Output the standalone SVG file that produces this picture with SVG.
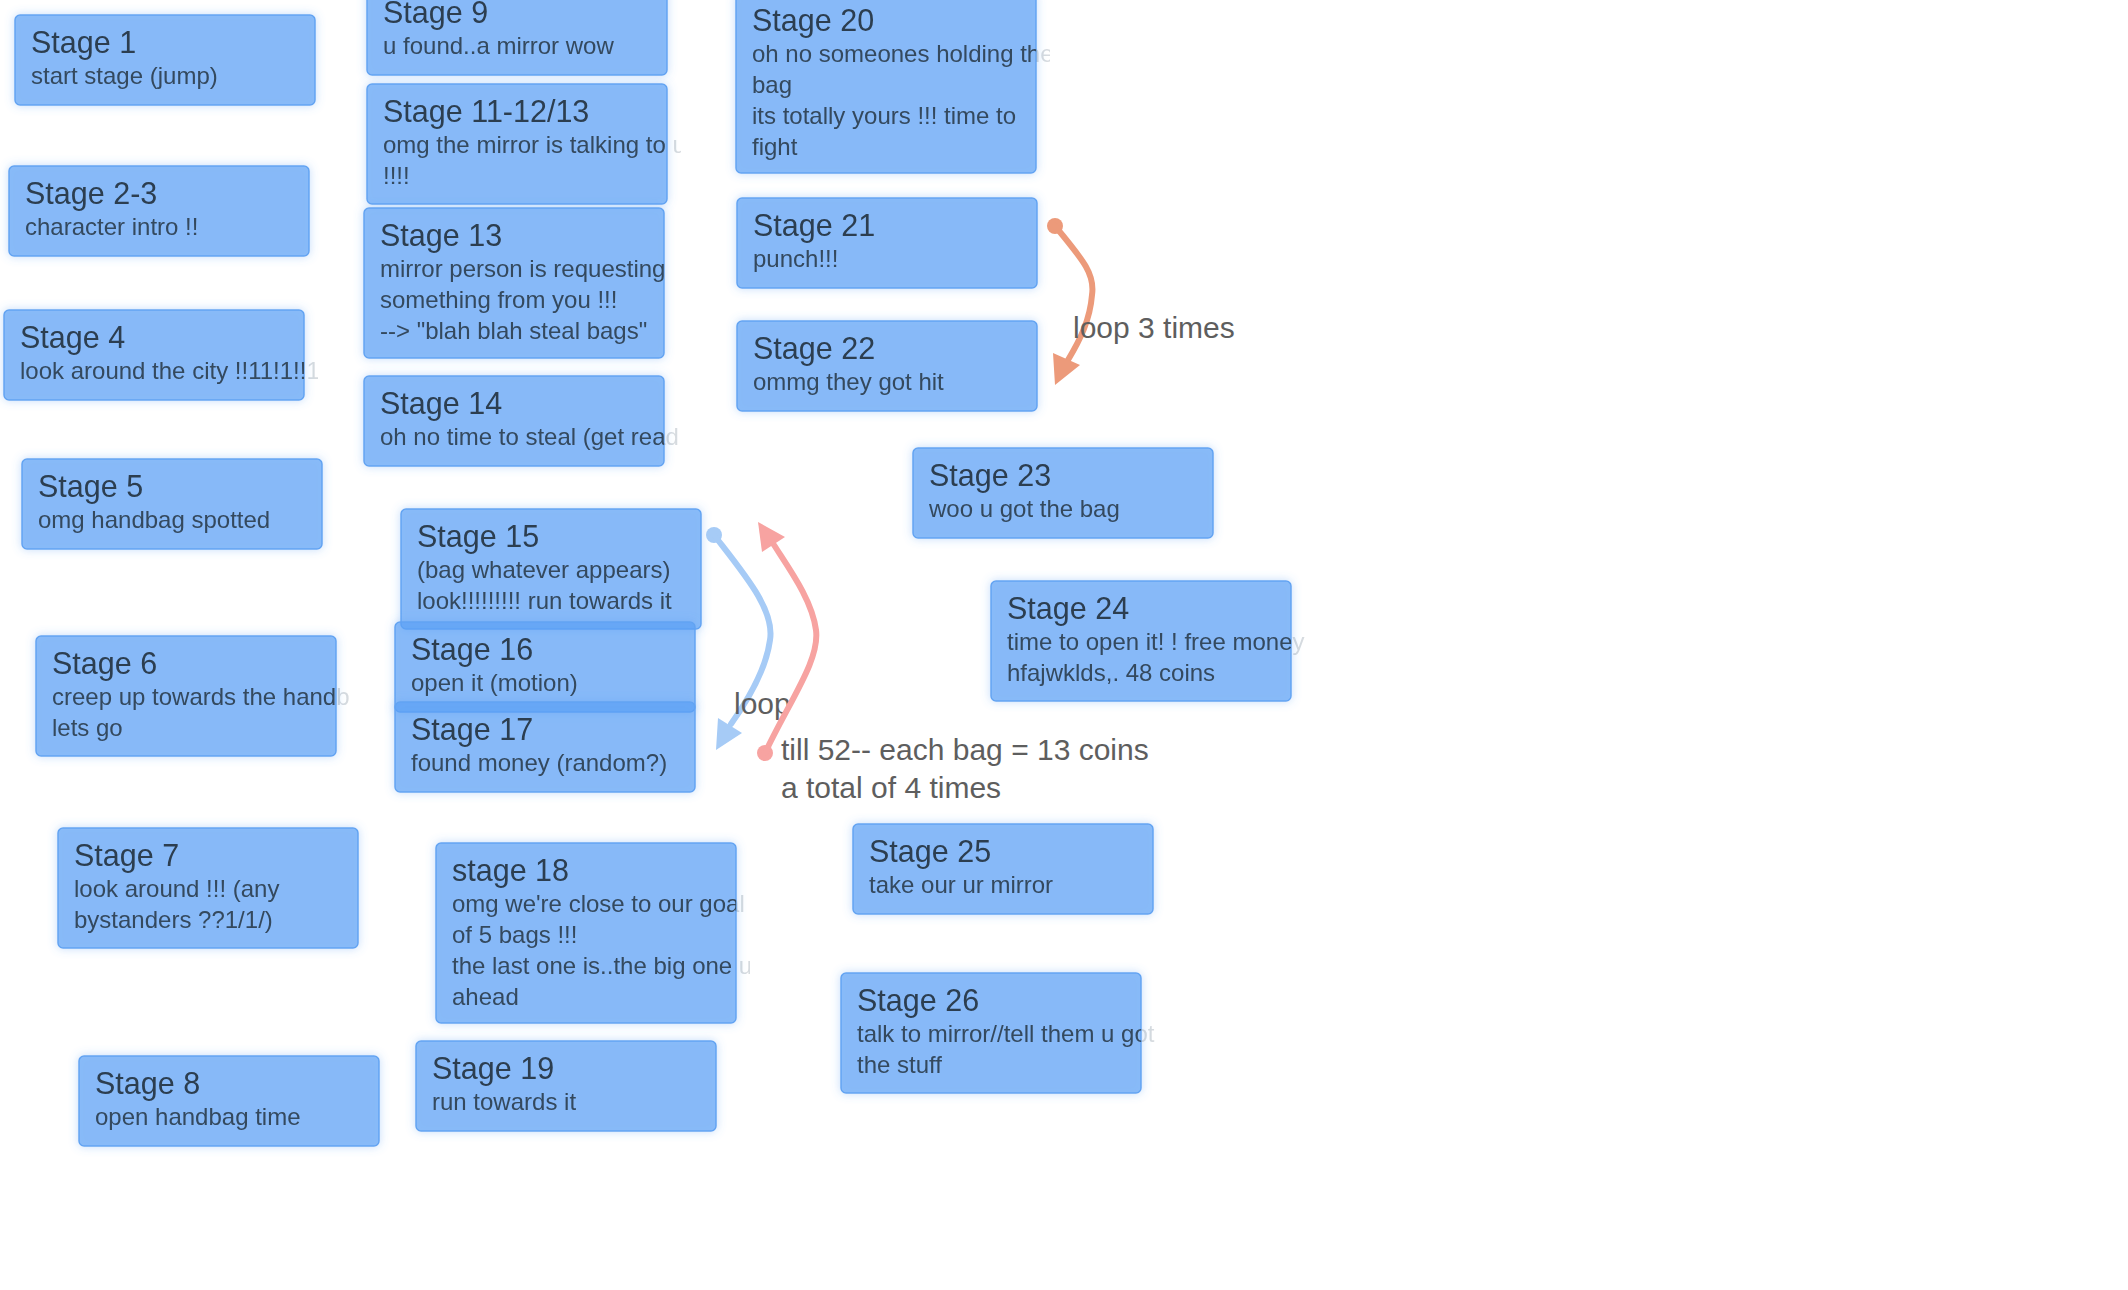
<svg xmlns="http://www.w3.org/2000/svg" width="2128" height="1290" viewBox="0 0 2128 1290">
<defs>
<style>
.box{fill:rgb(90,160,245);fill-opacity:.7;stroke:#62a3f2;stroke-width:1.5;filter:url(#glow)}
.t{font-family:"Liberation Sans",Arial,sans-serif;font-size:30.5px;fill:#2c3e50}
.b{font-family:"Liberation Sans",Arial,sans-serif;font-size:24px;fill:#34495e}
.lbl{font-family:"Liberation Sans",Arial,sans-serif;font-size:30px;fill:#5e5e5e}
.c{fill:none;stroke-width:6;stroke-linecap:round}
</style>
<filter id="glow" x="-20%" y="-40%" width="140%" height="180%">
<feGaussianBlur in="SourceAlpha" stdDeviation="5" result="b"/>
<feFlood flood-color="#5a9ef2" flood-opacity="0.45"/>
<feComposite in2="b" operator="in" result="s"/>
<feComposite in="s" in2="SourceAlpha" operator="out" result="o"/>
<feMerge><feMergeNode in="o"/><feMergeNode in="SourceGraphic"/></feMerge>
</filter>
<mask id="fade" maskUnits="userSpaceOnUse" x="-20" y="-20" width="360" height="260">
<rect x="-20" y="-20" width="320" height="260" fill="#fff"/>
<rect x="300" y="-20" width="14" height="260" fill="#333"/>
</mask>
</defs>
<rect width="2128" height="1290" fill="#fff"/>

<g id="stage-1" transform="translate(15,15)"><rect class="box" width="300" height="90" rx="5"/><g mask="url(#fade)"><text class="t" x="16" y="38">Stage 1</text><text class="b" x="16" y="69">start stage (jump)</text></g></g>
<g id="stage-2-3" transform="translate(9,166)"><rect class="box" width="300" height="90" rx="5"/><g mask="url(#fade)"><text class="t" x="16" y="38">Stage 2-3</text><text class="b" x="16" y="69">character intro !!</text></g></g>
<g id="stage-4" transform="translate(4,310)"><rect class="box" width="300" height="90" rx="5"/><g mask="url(#fade)"><text class="t" x="16" y="38">Stage 4</text><text class="b" x="16" y="69">look around the city !!11!1!!1</text></g></g>
<g id="stage-5" transform="translate(22,459)"><rect class="box" width="300" height="90" rx="5"/><g mask="url(#fade)"><text class="t" x="16" y="38">Stage 5</text><text class="b" x="16" y="69">omg handbag spotted</text></g></g>
<g id="stage-6" transform="translate(36,636)"><rect class="box" width="300" height="120" rx="5"/><g mask="url(#fade)"><text class="t" x="16" y="38">Stage 6</text><text class="b" x="16" y="69">creep up towards the handbag</text><text class="b" x="16" y="100">lets go</text></g></g>
<g id="stage-7" transform="translate(58,828)"><rect class="box" width="300" height="120" rx="5"/><g mask="url(#fade)"><text class="t" x="16" y="38">Stage 7</text><text class="b" x="16" y="69">look around !!! (any</text><text class="b" x="16" y="100">bystanders ??1/1/)</text></g></g>
<g id="stage-8" transform="translate(79,1056)"><rect class="box" width="300" height="90" rx="5"/><g mask="url(#fade)"><text class="t" x="16" y="38">Stage 8</text><text class="b" x="16" y="69">open handbag time</text></g></g>

<g id="stage-9" transform="translate(367,-15)"><rect class="box" width="300" height="90" rx="5"/><g mask="url(#fade)"><text class="t" x="16" y="38">Stage 9</text><text class="b" x="16" y="69">u found..a mirror wow</text></g></g>
<g id="stage-11-12-13" transform="translate(367,84)"><rect class="box" width="300" height="120" rx="5"/><g mask="url(#fade)"><text class="t" x="16" y="38">Stage 11-12/13</text><text class="b" x="16" y="69">omg the mirror is talking to u</text><text class="b" x="16" y="100">!!!!</text></g></g>
<g id="stage-13" transform="translate(364,208)"><rect class="box" width="300" height="150" rx="5"/><g mask="url(#fade)"><text class="t" x="16" y="38">Stage 13</text><text class="b" x="16" y="69">mirror person is requesting</text><text class="b" x="16" y="100">something from you !!!</text><text class="b" x="16" y="131">--&gt; "blah blah steal bags"</text></g></g>
<g id="stage-14" transform="translate(364,376)"><rect class="box" width="300" height="90" rx="5"/><g mask="url(#fade)"><text class="t" x="16" y="38">Stage 14</text><text class="b" x="16" y="69">oh no time to steal (get ready)</text></g></g>
<g id="stage-15" transform="translate(401,509)"><rect class="box" width="300" height="120" rx="5"/><g mask="url(#fade)"><text class="t" x="16" y="38">Stage 15</text><text class="b" x="16" y="69">(bag whatever appears)</text><text class="b" x="16" y="100">look!!!!!!!!! run towards it</text></g></g>
<g id="stage-16" transform="translate(395,622)"><rect class="box" width="300" height="90" rx="5"/><g mask="url(#fade)"><text class="t" x="16" y="38">Stage 16</text><text class="b" x="16" y="69">open it (motion)</text></g></g>
<g id="stage-17" transform="translate(395,702)"><rect class="box" width="300" height="90" rx="5"/><g mask="url(#fade)"><text class="t" x="16" y="38">Stage 17</text><text class="b" x="16" y="69">found money (random?)</text></g></g>
<g id="stage-18" transform="translate(436,843)"><rect class="box" width="300" height="180" rx="5"/><g mask="url(#fade)"><text class="t" x="16" y="38">stage 18</text><text class="b" x="16" y="69">omg we're close to our goal</text><text class="b" x="16" y="100">of 5 bags !!!</text><text class="b" x="16" y="131">the last one is..the big one up</text><text class="b" x="16" y="162">ahead</text></g></g>
<g id="stage-19" transform="translate(416,1041)"><rect class="box" width="300" height="90" rx="5"/><g mask="url(#fade)"><text class="t" x="16" y="38">Stage 19</text><text class="b" x="16" y="69">run towards it</text></g></g>

<g id="stage-20" transform="translate(736,-7)"><rect class="box" width="300" height="180" rx="5"/><g mask="url(#fade)"><text class="t" x="16" y="38">Stage 20</text><text class="b" x="16" y="69">oh no someones holding the</text><text class="b" x="16" y="100">bag</text><text class="b" x="16" y="131">its totally yours !!! time to</text><text class="b" x="16" y="162">fight</text></g></g>
<g id="stage-21" transform="translate(737,198)"><rect class="box" width="300" height="90" rx="5"/><g mask="url(#fade)"><text class="t" x="16" y="38">Stage 21</text><text class="b" x="16" y="69">punch!!!</text></g></g>
<g id="stage-22" transform="translate(737,321)"><rect class="box" width="300" height="90" rx="5"/><g mask="url(#fade)"><text class="t" x="16" y="38">Stage 22</text><text class="b" x="16" y="69">ommg they got hit</text></g></g>
<g id="stage-23" transform="translate(913,448)"><rect class="box" width="300" height="90" rx="5"/><g mask="url(#fade)"><text class="t" x="16" y="38">Stage 23</text><text class="b" x="16" y="69">woo u got the bag</text></g></g>
<g id="stage-24" transform="translate(991,581)"><rect class="box" width="300" height="120" rx="5"/><g mask="url(#fade)"><text class="t" x="16" y="38">Stage 24</text><text class="b" x="16" y="69">time to open it! ! free money</text><text class="b" x="16" y="100">hfajwklds,. 48 coins</text></g></g>
<g id="stage-25" transform="translate(853,824)"><rect class="box" width="300" height="90" rx="5"/><g mask="url(#fade)"><text class="t" x="16" y="38">Stage 25</text><text class="b" x="16" y="69">take our ur mirror</text></g></g>
<g id="stage-26" transform="translate(841,973)"><rect class="box" width="300" height="120" rx="5"/><g mask="url(#fade)"><text class="t" x="16" y="38">Stage 26</text><text class="b" x="16" y="69">talk to mirror//tell them u got</text><text class="b" x="16" y="100">the stuff</text></g></g>

<g id="connectors">
<g id="loop-3-times">
<circle cx="1055" cy="226" r="8" fill="#ec9a7a"/>
<path class="c" stroke="#ec9a7a" d="M1055,226 C1085,262 1095,275 1092,295 C1090,320 1080,340 1068,360"/>
<polygon fill="#ec9a7a" points="1055,385 1053,353 1080,365"/>
<text class="lbl" x="1073" y="338">loop 3 times</text>
</g>
<g id="loop">
<circle cx="714" cy="535" r="8" fill="#a6cbf6"/>
<path class="c" stroke="#a6cbf6" d="M714,535 C745,575 775,610 770,640 C766,670 748,700 731,724"/>
<polygon fill="#a6cbf6" points="716,750 718,718 742,733"/>
<text class="lbl" x="734" y="714">loop</text>
</g>
<g id="till-52">
<circle cx="765" cy="753" r="8" fill="#f7a3a1"/>
<path class="c" stroke="#f7a3a1" d="M765,753 C790,700 820,660 816,630 C812,600 790,570 774,545"/>
<polygon fill="#f7a3a1" points="758,522 762,552 785,537"/>
<text class="lbl" x="781" y="760">till 52-- each bag = 13 coins</text>
<text class="lbl" x="781" y="798">a total of 4 times</text>
</g>
</g>
</svg>
